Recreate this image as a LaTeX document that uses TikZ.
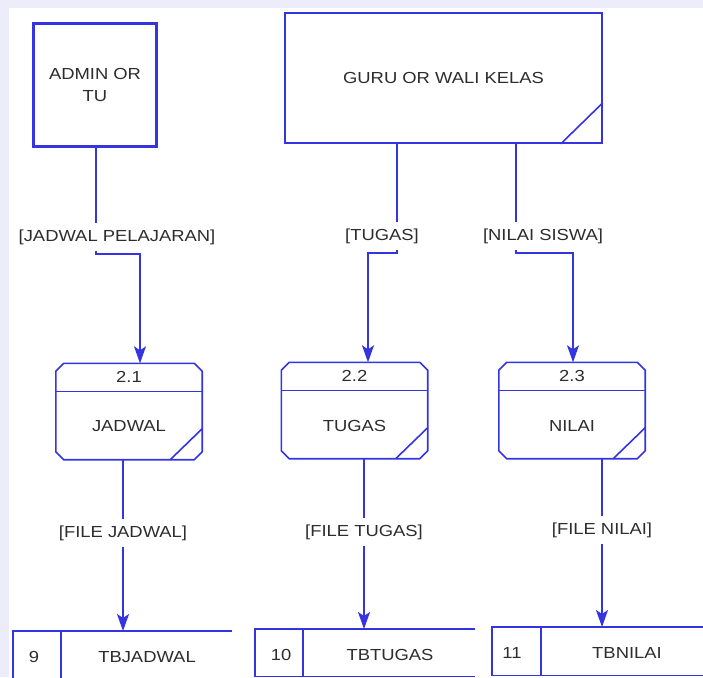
\documentclass[tikz,border=0pt]{standalone}
\usepackage{fontspec}
\setmainfont{Liberation Sans}[FakeStretch=1.15]
\usetikzlibrary{arrows.meta}
\definecolor{lnc}{RGB}{52,52,225}
\definecolor{txc}{RGB}{45,45,45}
\definecolor{lav}{RGB}{236,236,250}
\newcommand{\chamfbox}[1]{%
  \draw[ln] ([xshift=8pt]#1.north west) -- ([xshift=-8pt]#1.north east) -- ([yshift=-8pt]#1.north east)
    -- ([yshift=8pt]#1.south east) -- ([xshift=-8pt]#1.south east) -- ([xshift=8pt]#1.south west)
    -- ([yshift=8pt]#1.south west) -- ([yshift=-8pt]#1.north west) -- cycle;}
\newcommand{\procnode}[5]{% name, x, y, number, title
  \node[proc] (#1) at (#2,#3) {};
  \chamfbox{#1}
  \draw[ln] ([yshift=-28pt]#1.north west) -- ([yshift=-28pt]#1.north east);
  \draw[ln] ([xshift=-32pt]#1.south east) -- ([yshift=31pt]#1.south east);
  \node (#1num) at ([yshift=-14pt]#1.north) {#4};
  \node (#1tit) at ([yshift=-15pt]#1.center) {#5};}
\begin{document}
\begin{tikzpicture}[x=1pt,y=-1pt,
  every node/.style={font=\fontsize{16}{18}\selectfont, text=txc},
  ln/.style={draw=lnc, line width=1.6pt},
  arr/.style={ln, -{Stealth[length=17pt,width=12pt,inset=4pt]}},
  lbl/.style={inner xsep=2pt, inner ysep=6pt},
  proc/.style={minimum width=146pt, minimum height=96pt, inner sep=0pt},
  store/.style={minimum height=#1, inner sep=0pt, anchor=north west}]
\useasboundingbox (0,0) rectangle (703,677);
\fill[white] (0,0) rectangle (703,677);
\fill[lav] (0,0) rectangle (703,8);
\fill[lav] (0,0) rectangle (9,677);

% external entities
\node[draw=lnc, line width=3pt, minimum width=123pt, minimum height=123pt, inner sep=0pt,
      align=center, font=\fontsize{16}{22}\selectfont] (admin) at (95,85) {ADMIN OR\\TU};
\node[ln, minimum width=317pt, minimum height=130pt, inner sep=0pt] (guru) at (443.5,78) {GURU OR WALI KELAS};
\draw[ln] ([xshift=-42pt]guru.south east) -- ([yshift=41pt]guru.south east);

% processes
\procnode{p1}{129}{411.5}{2.1}{JADWAL}
\procnode{p2}{354.5}{410.5}{2.2}{TUGAS}
\procnode{p3}{572}{410.5}{2.3}{NILAI}

% data stores
\node[store=50pt, minimum width=219pt] (s1) at (13,631) {};
\draw[ln] (s1.north east) -- (s1.north west) -- (s1.south west);
\draw[ln] ([xshift=48pt]s1.north west) -- ([xshift=48pt]s1.south west);
\node (s1num) at ([xshift=21pt,yshift=-26pt]s1.north west) {9};
\node (s1tit) at ([xshift=134pt,yshift=-26pt]s1.north west) {TBJADWAL};

\node[store=47pt, minimum width=220pt] (s2) at (255,629) {};
\draw[ln] (s2.north east) -- (s2.north west) -- (s2.south west) -- (s2.south east);
\draw[ln] ([xshift=48pt]s2.north west) -- ([xshift=48pt]s2.south west);
\node (s2num) at ([xshift=26pt,yshift=-26pt]s2.north west) {10};
\node (s2tit) at ([xshift=135pt,yshift=-26pt]s2.north west) {TBTUGAS};

\node[store=48pt, minimum width=215pt] (s3) at (492,627) {};
\draw[ln] (s3.north east) -- (s3.north west) -- (s3.south west) -- (s3.south east);
\draw[ln] ([xshift=49pt]s3.north west) -- ([xshift=49pt]s3.south west);
\node (s3num) at ([xshift=20pt,yshift=-26pt]s3.north west) {11};
\node (s3tit) at ([xshift=135pt,yshift=-26pt]s3.north west) {TBNILAI};

% flow labels
\node[lbl] (l1) at (117,237) {[JADWAL PELAJARAN]};
\node[lbl] (l2) at (382,236) {[TUGAS]};
\node[lbl] (l3) at (543,236) {[NILAI SISWA]};
\node[lbl] (l4) at (123,533) {[FILE JADWAL]};
\node[lbl] (l5) at (364,532) {[FILE TUGAS]};
\node[lbl] (l6) at (602,530) {[FILE NILAI]};

% flows
\coordinate (a1) at (96,254);  \coordinate (a2) at (140,254);
\draw[ln] (admin.south -| a1) -- (a1 |- l1.north);
\draw[arr] (a1 |- l1.south) -- (a1) -- (a2) -- (a2 |- p1.north);

\coordinate (g1) at (397,253); \coordinate (g2) at (368,253);
\draw[ln] (guru.south -| g1) -- (g1 |- l2.north);
\draw[arr] (g1 |- l2.south) -- (g1) -- (g2) -- (g2 |- p2.north);

\coordinate (g3) at (516,253); \coordinate (g4) at (573,253);
\draw[ln] (guru.south -| g3) -- (g3 |- l3.north);
\draw[arr] (g3 |- l3.south) -- (g3) -- (g4) -- (g4 |- p3.north);

\draw[ln] (l4 |- p1.south) -- (l4.north);
\draw[arr] (l4.south) -- (l4 |- s1.north);
\draw[ln] (l5 |- p2.south) -- (l5.north);
\draw[arr] (l5.south) -- (l5 |- s2.north);
\draw[ln] (l6 |- p3.south) -- (l6.north);
\draw[arr] (l6.south) -- (l6 |- s3.north);
\end{tikzpicture}
\end{document}
